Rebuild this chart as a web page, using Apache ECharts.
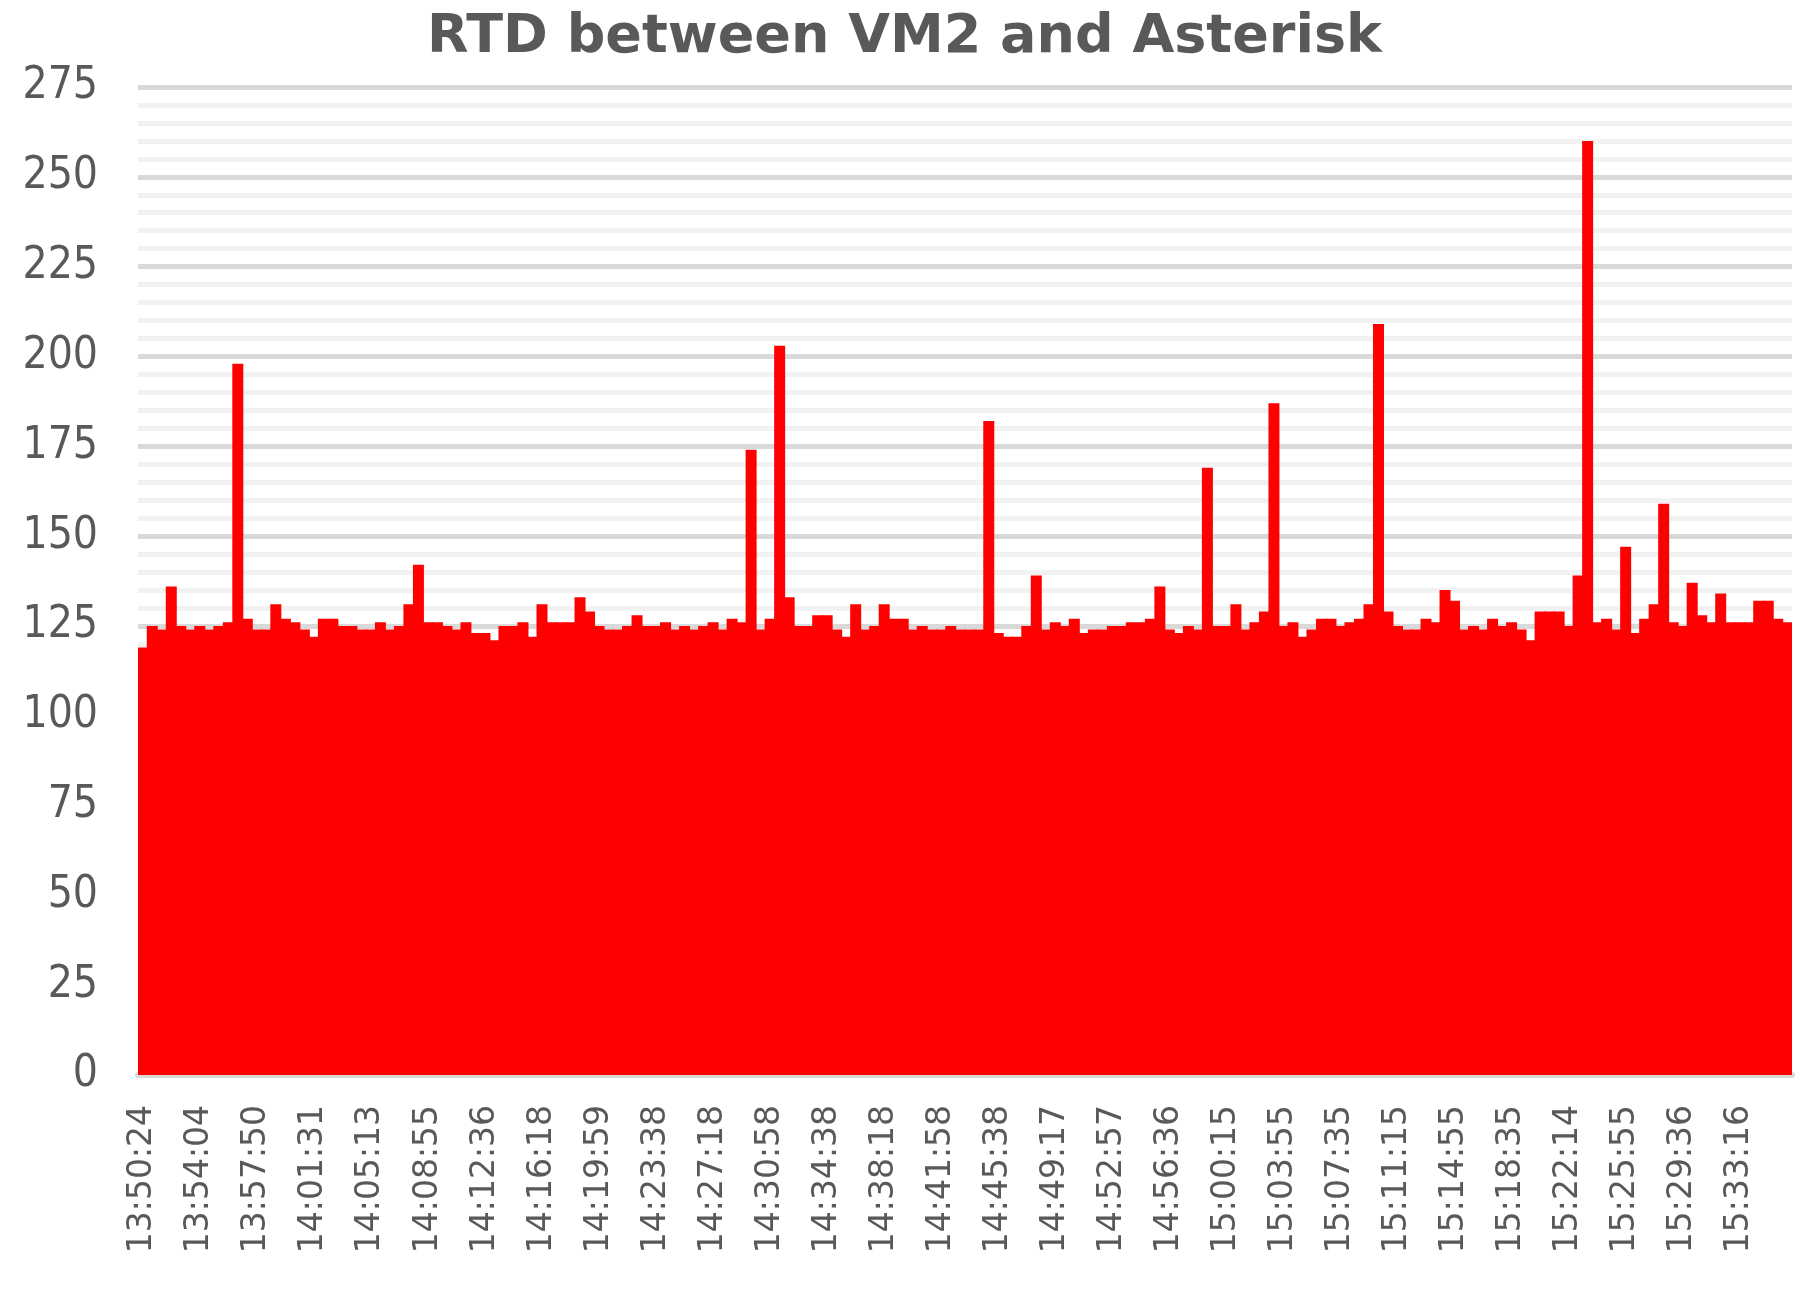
<!DOCTYPE html>
<html>
<head>
<meta charset="utf-8">
<script src="https://cdn.jsdelivr.net/npm/echarts@6/dist/echarts.min.js"></script>
<style>
html, body { margin: 0; padding: 0; background: #fff; }
#chart { width: 1809px; height: 1299px; }
</style>
</head>
<body>
<div id="chart"></div>
<script>
// one tick label every 6 samples
const tickLabels = ['13:50:24', '13:54:04', '13:57:50', '14:01:31', '14:05:13', '14:08:55', '14:12:36',
	'14:16:18', '14:19:59', '14:23:38', '14:27:18', '14:30:58', '14:34:38', '14:38:18', '14:41:58',
	'14:45:38', '14:49:17', '14:52:57', '14:56:36', '15:00:15', '15:03:55', '15:07:35', '15:11:15',
	'15:14:55', '15:18:35', '15:22:14', '15:25:55', '15:29:36', '15:33:16']
const labelStep = 6

const rtd = [
	119, 125, 124, 136, 125, 124, 125, 124, 125, 126,
	198, 127, 124, 124, 131, 127, 126, 124, 122, 127,
	127, 125, 125, 124, 124, 126, 124, 125, 131, 142,
	126, 126, 125, 124, 126, 123, 123, 121, 125, 125,
	126, 122, 131, 126, 126, 126, 133, 129, 125, 124,
	124, 125, 128, 125, 125, 126, 124, 125, 124, 125,
	126, 124, 127, 126, 174, 124, 127, 203, 133, 125,
	125, 128, 128, 124, 122, 131, 124, 125, 131, 127,
	127, 124, 125, 124, 124, 125, 124, 124, 124, 182,
	123, 122, 122, 125, 139, 124, 126, 125, 127, 123,
	124, 124, 125, 125, 126, 126, 127, 136, 124, 123,
	125, 124, 169, 125, 125, 131, 124, 126, 129, 187,
	125, 126, 122, 124, 127, 127, 125, 126, 127, 131,
	209, 129, 125, 124, 124, 127, 126, 135, 132, 124,
	125, 124, 127, 125, 126, 124, 121, 129, 129, 129,
	125, 139, 260, 126, 127, 124, 147, 123, 127, 131,
	159, 126, 125, 137, 128, 126, 134, 126, 126, 126,
	132, 132, 127, 126
]

const categories = rtd.map((v, i) => i)

const chart = echarts.init(document.getElementById('chart'))
chart.setOption({
	animation: false,
	title: {
		text: 'RTD between VM2 and Asterisk',
		left: 'center',
		top: 6,
		textStyle: { fontFamily: 'DejaVu Sans', fontWeight: 'bold', fontSize: 54, color: '#595959' }
	},
	grid: { left: 138, right: 17, top: 87, bottom: 224 },
	xAxis: {
		type: 'category',
		data: categories,
		axisTick: { show: false },
		axisLine: { lineStyle: { color: '#d9d9d9', width: 6 } },
		axisLabel: {
			interval: labelStep - 1,
			rotate: 90,
			margin: 30,
			fontFamily: 'DejaVu Sans',
			fontSize: 33,
			color: '#595959',
			formatter: (v, i) => tickLabels[i / labelStep] || ''
		}
	},
	yAxis: {
		type: 'value',
		min: 0,
		max: 275,
		interval: 25,
		axisLine: { show: false },
		axisTick: { show: false },
		axisLabel: { fontFamily: 'DejaVu Sans Condensed', fontSize: 44, color: '#595959', margin: 40 },
		splitLine: { lineStyle: { color: '#d9d9d9', width: 5 } },
		minorTick: { show: false, splitNumber: 5 },
		minorSplitLine: { show: true, lineStyle: { color: '#f2f2f2', width: 5 } }
	},
	series: [{
		type: 'bar',
		data: rtd,
		barWidth: 11,
		itemStyle: { color: '#ff0000' }
	}]
})
</script>
</body>
</html>
